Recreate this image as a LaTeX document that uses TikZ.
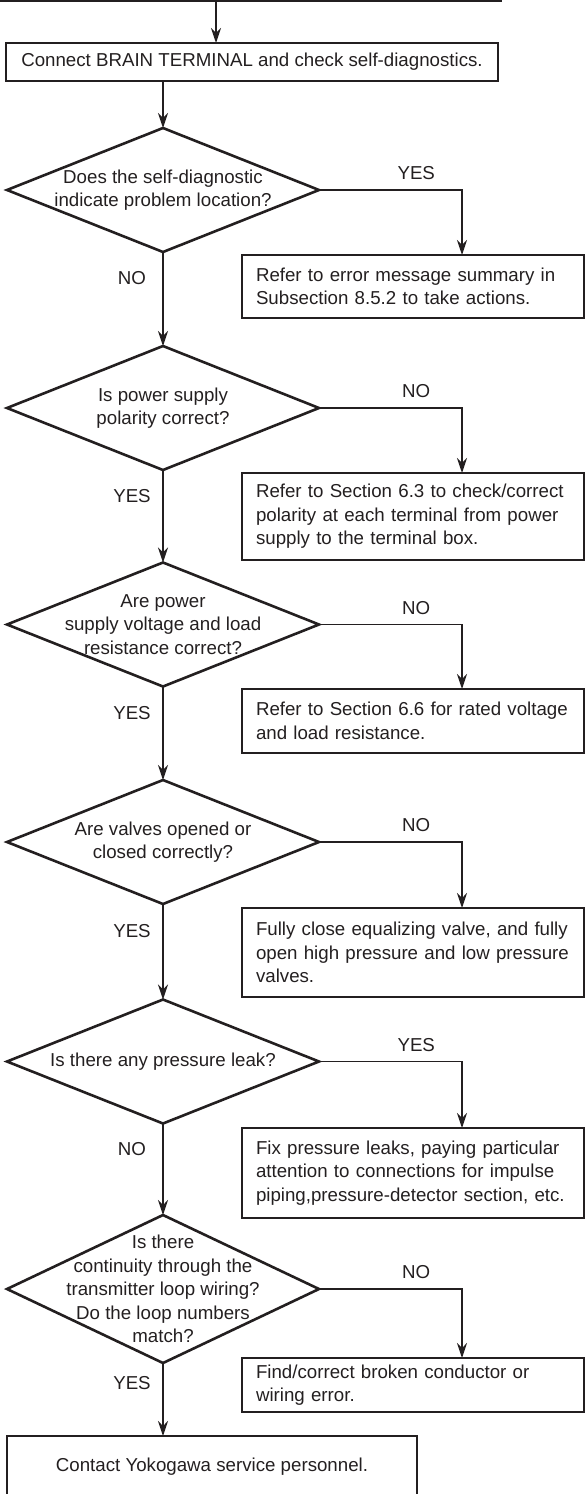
\documentclass[tikz,border=0pt]{standalone}
\usepackage{fontspec}
\setmainfont{Liberation Sans}
\usetikzlibrary{shapes.geometric,arrows.meta}
\definecolor{ink}{HTML}{231F20}

\begin{document}
\begin{tikzpicture}[x=1pt,y=-1pt,font=\fontsize{18.7}{23.5}\selectfont,text=ink,
  box/.style={rectangle,draw=ink,line width=2.6pt,outer sep=0pt},
  action/.style={box,anchor=north west,text width=314pt,inner xsep=14pt,inner ysep=0pt,align=left},
  decision/.style={diamond,draw=ink,line width=2.6pt,outer sep=0pt,inner sep=0pt,minimum width=312pt,minimum height=124pt},
  qtext/.style={align=center,text=ink},
  arr/.style={draw=ink,line width=1.4pt,-{Stealth[length=15pt,width=10pt,inset=5pt]}},
  yn/.style={pos=0.34,above=6pt},
  sidelbl/.style={pos=0.28,xshift=-31pt}]
  \useasboundingbox (0,0) rectangle (585,1494);
  \clip (0,0) rectangle (585,1494);
  % previous step, cut off at the top
  \node[box,anchor=south west,minimum width=511pt,minimum height=60pt] (prev) at (-10,1) {};
  \node[box,minimum width=492pt,minimum height=38pt] (connect) at (252,62) {Connect BRAIN TERMINAL and check self-diagnostics.};
  % questions
  \node[decision,label={[qtext]center:{Does the self-diagnostic\\indicate problem location?}}] (self) at (163,190) {};
  \node[decision,label={[qtext]center:{Is power supply\\polarity correct?}}] (pol) at (163,408) {};
  \node[decision,label={[qtext]center:{Are power\\supply voltage and load\\resistance correct?}}] (volt) at (163,624.5) {};
  \node[decision,label={[qtext]center:{Are valves opened or\\closed correctly?}}] (valve) at (163,842) {};
  \node[decision,label={[qtext]center:{Is there any pressure leak?}}] (leak) at (163,1061.5) {};
  \node[decision,minimum height=148pt,label={[qtext]center:{Is there\\continuity through the\\transmitter loop wiring?\\Do the loop numbers\\match?}}] (loop) at (163,1289) {};
  % actions
  \node[action,minimum height=63pt] (errbox) at (242,255) {Refer to error message summary in\\Subsection 8.5.2 to take actions.};
  \node[action,minimum height=87pt] (polfix) at (242,473) {Refer to Section 6.3 to check/correct\\polarity at each terminal from power\\supply to the terminal box.};
  \node[action,minimum height=64pt] (voltfix) at (242,689) {Refer to Section 6.6 for rated voltage\\and load resistance.};
  \node[action,minimum height=89pt] (valvefix) at (242,908) {Fully close equalizing valve, and fully\\open high pressure and low pressure\\valves.};
  \node[action,minimum height=90pt] (leakfix) at (242,1128) {Fix pressure leaks, paying particular\\attention to connections for impulse\\piping,pressure-detector section, etc.};
  \node[action,minimum height=54pt] (wirefix) at (242,1358) {Find/correct broken conductor or\\wiring error.};
  \node[box,minimum width=410pt,minimum height=61pt] (contact) at (212,1466.5) {Contact Yokogawa service personnel.};
  % connectors
  \draw[arr] ([xshift=226pt]prev.south west) -- ([xshift=210pt]connect.north west);
  \draw[arr] (connect.south -| self.north) -- (self.north);
  \foreach \from/\to/\ans in {self/pol/NO,pol/volt/YES,volt/valve/YES,valve/leak/YES,leak/loop/NO}
    \draw[arr] (\from.south) -- node[sidelbl] {\ans} (\to.north);
  \draw[arr] (loop.south) -- node[sidelbl] {YES} (loop.south |- contact.north);
  \foreach \from/\to/\ans in {self/errbox/YES,pol/polfix/NO,volt/voltfix/NO,valve/valvefix/NO,leak/leakfix/YES,loop/wirefix/NO}
    \draw[arr] (\from.east) -| node[yn] {\ans} ([xshift=220pt]\to.north west);
\end{tikzpicture}
\end{document}
